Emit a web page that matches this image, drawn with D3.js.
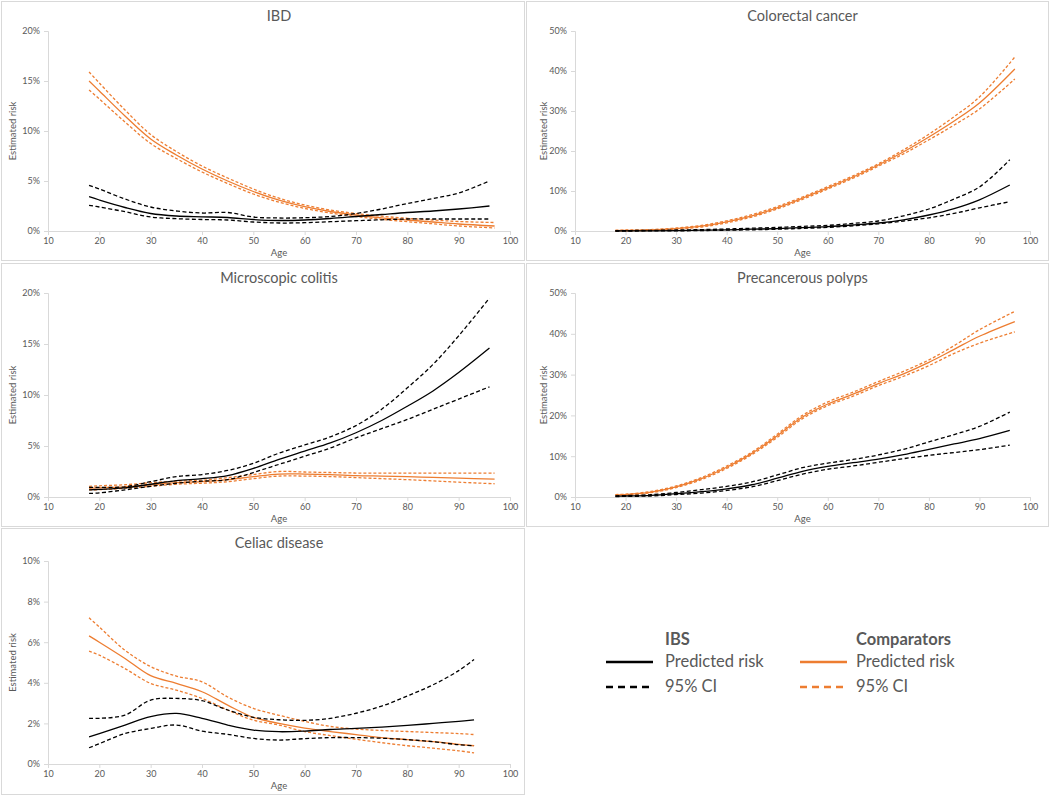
<!DOCTYPE html>
<html><head><meta charset="utf-8">
<script src="https://cdn.jsdelivr.net/npm/d3@7"></script>
<style>body{margin:0;background:#fff;}svg{display:block;font-family:Lato,"Open Sans",sans-serif;}</style>
</head><body>
<svg id="c" width="1050" height="795"></svg>
<script>
// ---------- DATA ----------
const ageTicks = [10,20,30,40,50,60,70,80,90,100];
const agesIbsA  = [18,20,25,30,35,40,45,50,55,60,65,70,75,80,85,90,96];
const agesCompA = [18,20,25,30,35,40,45,50,55,60,65,70,75,80,85,90,97];
const agesCeliac = [18,20,25,30,35,40,45,50,55,60,65,70,75,80,85,90,93];

// IBD (%)
const ibdIbs     = [3.43,3.1,2.35,1.75,1.5,1.42,1.35,1.15,1.05,1.1,1.25,1.45,1.65,1.85,2.0,2.2,2.5];
const ibdIbsHi   = [4.57,4.2,3.2,2.4,2.0,1.8,1.85,1.4,1.3,1.33,1.45,1.75,2.2,2.75,3.25,3.8,5.0];
const ibdIbsLo   = [2.57,2.4,1.93,1.4,1.23,1.15,1.1,0.9,0.8,0.83,0.93,1.03,1.12,1.2,1.2,1.2,1.2];
const ibdComp    = [15.0,14.0,11.5,9.2,7.6,6.2,5.0,3.95,3.08,2.43,1.95,1.6,1.32,1.1,0.9,0.7,0.5];
const ibdCompHi  = [15.9,14.8,12.1,9.65,7.95,6.5,5.3,4.2,3.28,2.6,2.1,1.75,1.48,1.27,1.1,0.95,0.85];
const ibdCompLo  = [14.1,13.2,10.9,8.75,7.25,5.9,4.75,3.7,2.88,2.26,1.8,1.45,1.17,0.93,0.72,0.5,0.3];

// Colorectal cancer (%)
const crcIbs     = [0.0,0.02,0.05,0.1,0.2,0.3,0.45,0.6,0.85,1.1,1.5,2.0,2.8,4.0,5.6,7.8,11.5];
const crcIbsHi   = [0.05,0.1,0.15,0.25,0.35,0.5,0.7,0.9,1.15,1.4,1.9,2.5,3.8,5.5,8.0,11.0,17.8];
const crcIbsLo   = [0.0,0.0,0.02,0.05,0.1,0.2,0.3,0.45,0.65,0.9,1.3,1.8,2.5,3.3,4.4,5.8,7.3];
const crcComp    = [0.1,0.15,0.25,0.6,1.2,2.3,3.8,5.8,8.2,10.8,13.5,16.5,19.8,23.5,27.5,32.0,40.5];
const crcCompHi  = [0.2,0.25,0.35,0.75,1.4,2.55,4.1,6.1,8.5,11.1,13.8,16.8,20.3,24.2,28.6,33.5,43.5];
const crcCompLo  = [0.0,0.05,0.15,0.45,1.0,2.05,3.5,5.5,7.9,10.5,13.2,16.2,19.3,22.8,26.5,30.5,38.0];

// Microscopic colitis (%)
const mcIbs      = [0.7,0.75,0.9,1.25,1.6,1.8,2.1,2.8,3.7,4.5,5.3,6.3,7.5,8.9,10.4,12.2,14.6];
const mcIbsHi    = [0.95,0.95,1.0,1.5,2.0,2.2,2.6,3.3,4.3,5.1,5.9,7.0,8.6,10.7,13.0,15.8,19.5];
const mcIbsLo    = [0.35,0.4,0.7,1.05,1.35,1.55,1.7,2.4,3.2,4.0,4.8,5.8,6.7,7.6,8.6,9.6,10.8];
const mcComp     = [0.85,0.9,1.0,1.2,1.4,1.5,1.7,2.0,2.25,2.25,2.2,2.1,2.05,2.0,1.92,1.85,1.75];
const mcCompHi   = [1.05,1.1,1.2,1.4,1.55,1.65,1.9,2.2,2.5,2.45,2.4,2.35,2.35,2.35,2.35,2.35,2.35];
const mcCompLo   = [0.7,0.72,0.85,1.05,1.25,1.35,1.5,1.8,2.05,2.05,2.0,1.9,1.8,1.7,1.58,1.45,1.3];

// Precancerous polyps (%)
const ppIbs      = [0.2,0.25,0.4,0.8,1.3,2.0,3.0,4.6,6.3,7.5,8.4,9.3,10.4,11.7,13.0,14.3,16.3];
const ppIbsHi    = [0.3,0.35,0.55,1.1,1.8,2.6,3.7,5.4,7.2,8.3,9.2,10.3,11.7,13.5,15.3,17.3,20.8];
const ppIbsLo    = [0.1,0.15,0.25,0.6,0.95,1.6,2.5,4.0,5.6,6.8,7.6,8.5,9.4,10.2,10.9,11.6,12.7];
const ppComp     = [0.5,0.6,1.2,2.5,4.5,7.3,10.7,15.0,19.6,22.8,25.2,27.8,30.2,33.0,36.2,39.4,43.0];
const ppCompHi   = [0.6,0.7,1.35,2.7,4.75,7.6,11.0,15.4,20.0,23.3,25.7,28.3,30.8,33.6,37.1,41.0,45.5];
const ppCompLo   = [0.4,0.5,1.05,2.3,4.25,7.0,10.4,14.6,19.2,22.4,24.7,27.3,29.6,32.2,35.2,37.7,40.5];

// Celiac disease (%)
const cdIbs      = [1.34,1.5,1.92,2.33,2.49,2.25,1.92,1.67,1.59,1.62,1.7,1.75,1.82,1.9,2.0,2.1,2.17];
const cdIbsHi    = [2.25,2.25,2.41,3.15,3.23,3.12,2.66,2.3,2.18,2.15,2.25,2.5,2.85,3.35,3.9,4.6,5.15];
const cdIbsLo    = [0.8,1.0,1.5,1.75,1.92,1.62,1.46,1.26,1.18,1.25,1.3,1.3,1.27,1.2,1.1,0.95,0.9];
const cdComp     = [6.31,6.0,5.2,4.35,3.97,3.56,2.9,2.3,2.0,1.77,1.6,1.45,1.3,1.2,1.1,0.97,0.9];
const cdCompHi   = [7.2,6.75,5.6,4.8,4.33,4.05,3.3,2.74,2.4,2.1,1.85,1.72,1.65,1.6,1.55,1.5,1.45];
const cdCompLo   = [5.56,5.36,4.7,3.97,3.64,3.23,2.66,2.16,1.92,1.6,1.4,1.22,1.05,0.9,0.78,0.65,0.55];

const panelTitles = ["IBD","Colorectal cancer","Microscopic colitis","Precancerous polyps","Celiac disease"];
const yMaxes = [20,50,20,50,10];
const yStepsPct = [5,10,5,10,2];

// ---------- LAYOUT ----------
const panels = [
  {frame:[1,1,523,259],   px:[48,510],  py:[31,231],  ibsAges:agesIbsA, compAges:agesCompA, s:[ibdIbs,ibdIbsHi,ibdIbsLo,ibdComp,ibdCompHi,ibdCompLo]},
  {frame:[526,1,522,259], px:[575,1030],py:[31,231],  ibsAges:agesIbsA, compAges:agesCompA, s:[crcIbs,crcIbsHi,crcIbsLo,crcComp,crcCompHi,crcCompLo]},
  {frame:[1,263,523,263], px:[48,510],  py:[293,497], ibsAges:agesIbsA, compAges:agesCompA, s:[mcIbs,mcIbsHi,mcIbsLo,mcComp,mcCompHi,mcCompLo]},
  {frame:[526,263,522,263],px:[575,1030],py:[293,497],ibsAges:agesIbsA, compAges:agesCompA, s:[ppIbs,ppIbsHi,ppIbsLo,ppComp,ppCompHi,ppCompLo]},
  {frame:[1,528,523,266], px:[48,510],  py:[561,764], ibsAges:agesCeliac, compAges:agesCeliac, s:[cdIbs,cdIbsHi,cdIbsLo,cdComp,cdCompHi,cdCompLo]}
];

const svg = d3.select("#c");
const ORANGE = "#ED7D31", BLACK = "#000000", GRAY = "#595959", AXIS = "#d9d9d9";

panels.forEach((p,i)=>{
  const g = svg.append("g");
  const [fx,fy,fw,fh] = p.frame;
  g.append("rect").attr("x",fx+0.5).attr("y",fy+0.5).attr("width",fw).attr("height",fh)
    .attr("fill","#fff").attr("stroke",AXIS).attr("stroke-width",1);

  const x = d3.scaleLinear().domain([10,100]).range(p.px);
  const y = d3.scaleLinear().domain([0,yMaxes[i]]).range([p.py[1],p.py[0]]);
  const yTicks = d3.range(0,yMaxes[i]+0.001,yStepsPct[i]);

  const xa = g.append("g").attr("transform",`translate(0,${p.py[1]})`)
    .call(d3.axisBottom(x).tickValues(ageTicks).tickSize(4).tickPadding(3).tickFormat(d3.format("d")));
  const ya = g.append("g").attr("transform",`translate(${p.px[0]},0)`)
    .call(d3.axisLeft(y).tickValues(yTicks).tickSize(4).tickPadding(4).tickFormat(d=>d+"%"));
  [xa,ya].forEach(a=>{
    a.select(".domain").attr("stroke",AXIS).attr("stroke-width",1);
    a.selectAll(".tick line").attr("stroke",AXIS);
    a.selectAll("text").attr("fill",GRAY).style("font-size","9px").style("font-family","Lato,'Open Sans',sans-serif");
  });

  g.append("text").attr("x",(p.px[0]+p.px[1])/2).attr("y",fy+16).attr("text-anchor","middle")
    .attr("dominant-baseline","middle").attr("fill",GRAY).style("font-size","14.5px").text(panelTitles[i]);
  g.append("text").attr("x",(p.px[0]+p.px[1])/2).attr("y",p.py[1]+23).attr("text-anchor","middle")
    .attr("dominant-baseline","middle").attr("fill",GRAY).style("font-size","9.5px").text("Age");
  const ylx = fx + (i%2===0 ? 13 : 19);
  const yly = (p.py[0]+p.py[1])/2;
  g.append("text").attr("transform",`translate(${ylx},${yly}) rotate(-90)`).attr("text-anchor","middle")
    .attr("dominant-baseline","middle").attr("fill",GRAY).style("font-size","9.5px").text("Estimated risk");

  const mk = ages => d3.line().x((d,j)=>x(ages[j])).y(d=>y(d)).curve(d3.curveCatmullRom.alpha(0.5));
  const lines = [
    {d:p.s[4],ages:p.compAges,c:ORANGE,dash:"3,2",w:1.3},
    {d:p.s[5],ages:p.compAges,c:ORANGE,dash:"3,2",w:1.3},
    {d:p.s[3],ages:p.compAges,c:ORANGE,dash:null,w:1.3},
    {d:p.s[1],ages:p.ibsAges,c:BLACK,dash:"4,2.5",w:1.3},
    {d:p.s[2],ages:p.ibsAges,c:BLACK,dash:"4,2.5",w:1.3},
    {d:p.s[0],ages:p.ibsAges,c:BLACK,dash:null,w:1.3}
  ];
  lines.forEach(l=>{
    g.append("path").attr("d",mk(l.ages)(l.d)).attr("fill","none").attr("stroke",l.c)
      .attr("stroke-width",l.w).attr("stroke-dasharray",l.dash);
  });
});

// ---------- LEGEND ----------
const legendGroups = ["IBS","Comparators"];
const legendItems = ["Predicted risk","95% CI"];
const lg = svg.append("g").style("font-size","16.5px");
[[606,665,BLACK],[800,856,ORANGE]].forEach(([lx,tx,c],k)=>{
  lg.append("text").attr("x",tx).attr("y",641).attr("dominant-baseline","middle")
    .attr("fill",GRAY).attr("font-weight","bold").text(legendGroups[k]);
  legendItems.forEach((t,m)=>{
    const yy = 662 + m*25;
    lg.append("line").attr("x1",lx).attr("x2",lx+47).attr("y1",yy).attr("y2",yy)
      .attr("stroke",c).attr("stroke-width",2.5).attr("stroke-dasharray",m===1?"7,5":null);
    lg.append("text").attr("x",tx).attr("y",yy+1).attr("dominant-baseline","middle").attr("fill",GRAY).text(t);
  });
});
</script>
</body></html>
